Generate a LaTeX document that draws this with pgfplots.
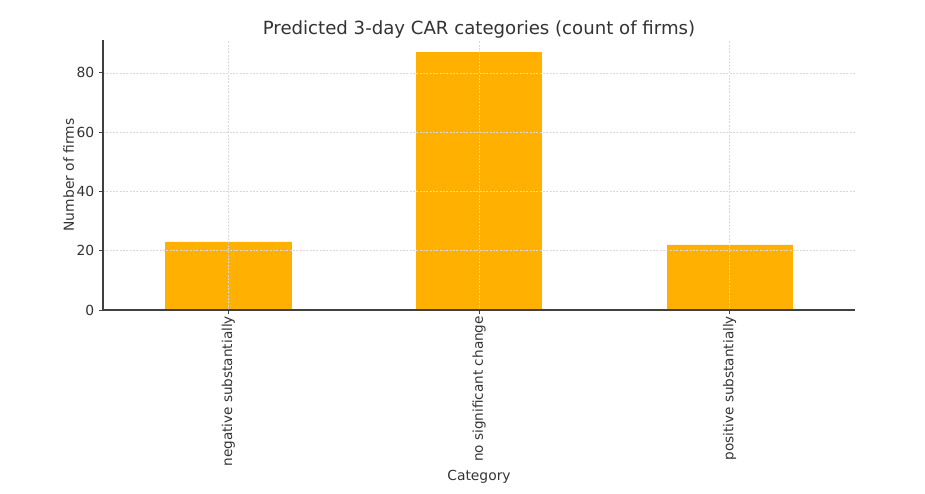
\documentclass[border=0pt]{standalone}
\usepackage{pgfplots}
\pgfplotsset{compat=1.18}
\usepackage{fontspec}
\setmainfont{DejaVu Sans}
\definecolor{barc}{HTML}{FFB000}
\definecolor{txt}{HTML}{333333}
\begin{document}
\begin{tikzpicture}[x=1pt,y=1pt]
\begin{axis}[
  scale only axis,
  width=564pt, height=202.5pt,
  ymin=0, ymax=91.1,
  xmin=-0.5, xmax=2.5,
  xtick={0,1,2},
  xticklabels={negative substantially, no significant change, positive substantially},
  x tick label style={rotate=90, anchor=east, font=\fontsize{10.2}{12}\selectfont, text=txt, xshift=2pt},
  y tick label style={font=\fontsize{10.4}{12}\selectfont, text=txt},
  ytick={0,20,40,60,80},
  /pgf/number format/assume math mode=true,
  axis x line*=bottom, axis y line*=left,
  axis line style={draw=black!75, line width=0.8pt},
  tick style={draw=black!75, line width=0.6pt},
  tick align=outside,
  major tick length=3pt,
  grid=major,
  grid style={dash pattern=on 1.5pt off 1pt, draw=gray!30, line width=0.4pt},
  axis on top,
  title={Predicted 3-day CAR categories (count of firms)},
  title style={font=\fontsize{13.6}{16}\selectfont, text=txt, yshift=-8pt},
  xlabel={Category}, ylabel={Number of firms},
  label style={font=\fontsize{10.4}{12}\selectfont, text=txt},
  ylabel style={yshift=-5pt},
  xlabel style={yshift=4pt},
]
\addplot[ybar, bar width=94pt, fill=barc, draw=barc, bar shift=0pt] coordinates {(0,23) (1,87) (2,22)};
\end{axis}
\path (current axis.south west) ++(-77.25pt,-137.25pt) rectangle ++(693.75pt,369.75pt);
\end{tikzpicture}
\end{document}
